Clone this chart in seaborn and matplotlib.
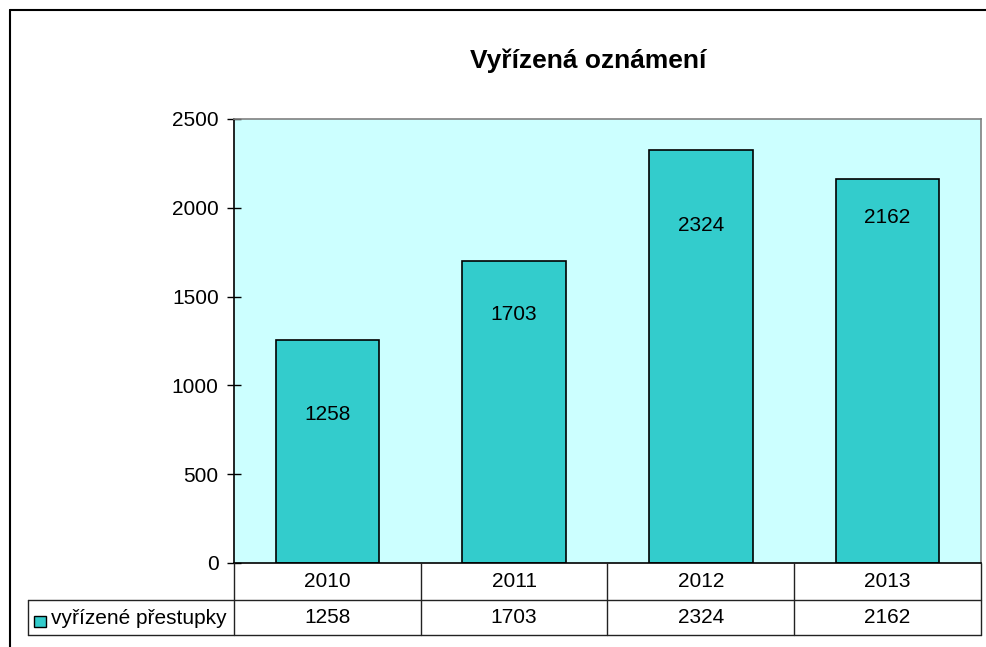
import matplotlib
matplotlib.use("Agg")
import matplotlib.pyplot as plt
import matplotlib.transforms as mtransforms
from matplotlib.lines import Line2D
from matplotlib.patches import Rectangle
import seaborn as sns
import pandas as pd

title = "Vyřízená oznámení"
years = ["2010", "2011", "2012", "2013"]
values = [1258, 1703, 2324, 2162]
series_name = "vyřízené přestupky"
yticks = [0, 500, 1000, 1500, 2000, 2500]

sns.set_theme(style="white")
plt.rcParams["font.family"] = ["Liberation Sans", "DejaVu Sans"]

W, H = 987, 647
fig = plt.figure(figsize=(W / 100, H / 100), dpi=100)
fig.patch.set_facecolor("white")

def fx(x):
    return x / W

def fy(y):
    return 1 - y / H

FS = 15
left, right, top, bottom = 234, 981, 119, 563
ax = fig.add_axes([fx(left), fy(bottom), fx(right - left), (bottom - top) / H])
ax.set_facecolor("#CCFFFF")

df = pd.DataFrame({"year": years, "value": values})
sns.barplot(data=df, x="year", y="value", color="#33CCCC", saturation=1,
            edgecolor="black", linewidth=1.2, width=0.555, ax=ax)

ax.set_xlim(-0.5, len(years) - 0.5)
ax.set_ylim(0, 2500)
ax.set_yticks(yticks)
ax.set_yticklabels([str(t) for t in yticks], fontsize=FS, color="black")
ax.tick_params(axis="y", direction="inout", length=10, width=1, color="black", pad=6, left=True)
ax.tick_params(axis="x", bottom=False, labelbottom=False)
ax.set_xlabel("")
ax.set_ylabel("")
for s in ["left", "bottom"]:
    ax.spines[s].set_color("black")
    ax.spines[s].set_linewidth(1.2)
for s in ["top", "right"]:
    ax.spines[s].set_color("#808080")
    ax.spines[s].set_linewidth(1.2)

# bar value labels (offsets from bar top in points)
label_offsets = [-54, -39, -54, -28]
for i, (v, off) in enumerate(zip(values, label_offsets)):
    ax.annotate(str(v), xy=(i, v), xytext=(0, off), textcoords="offset points",
                ha="center", va="center", fontsize=FS, color="black")

# title
fig.text(fx(588), fy(61), title, ha="center", va="center", fontsize=19,
         fontweight="bold", color="black")

# data table
trans = mtransforms.blended_transform_factory(ax.transData, fig.transFigure)
row1_top, row1_bot, row2_bot = 563, 600, 635
lc = "#222222"
lw = 1.0
fig.add_artist(Line2D([fx(left), fx(right)], [fy(row1_bot), fy(row1_bot)], color=lc, lw=lw))
fig.add_artist(Line2D([fx(28), fx(left)], [fy(row1_bot), fy(row1_bot)], color=lc, lw=lw))
fig.add_artist(Line2D([fx(28), fx(right)], [fy(row2_bot), fy(row2_bot)], color=lc, lw=lw))
for b in range(len(years) + 1):
    xb = b - 0.5
    fig.add_artist(Line2D([xb, xb], [fy(row1_top), fy(row2_bot)], color=lc, lw=lw, transform=trans))
fig.add_artist(Line2D([fx(28), fx(28)], [fy(row1_bot), fy(row2_bot)], color=lc, lw=lw))

for i, (yr, v) in enumerate(zip(years, values)):
    fig.text(i, fy((row1_top + row1_bot) / 2), yr, transform=trans, ha="center",
             va="center", fontsize=FS, color="black")
    fig.text(i, fy((row1_bot + row2_bot) / 2), str(v), transform=trans, ha="center",
             va="center", fontsize=FS, color="black")

# legend key in table
fig.add_artist(Rectangle((fx(34), fy(627)), fx(12), 11 / H, facecolor="#33CCCC",
                         edgecolor="black", lw=1))
fig.text(fx(51), fy(618), series_name, ha="left", va="center", fontsize=FS, color="black")

# outer chart border
fig.add_artist(Line2D([fx(10), fx(W)], [fy(10), fy(10)], color="black", lw=1.5))
fig.add_artist(Line2D([fx(10), fx(10)], [fy(10), fy(H)], color="black", lw=1.5))

fig.savefig("out.png", dpi=100, facecolor="white")
